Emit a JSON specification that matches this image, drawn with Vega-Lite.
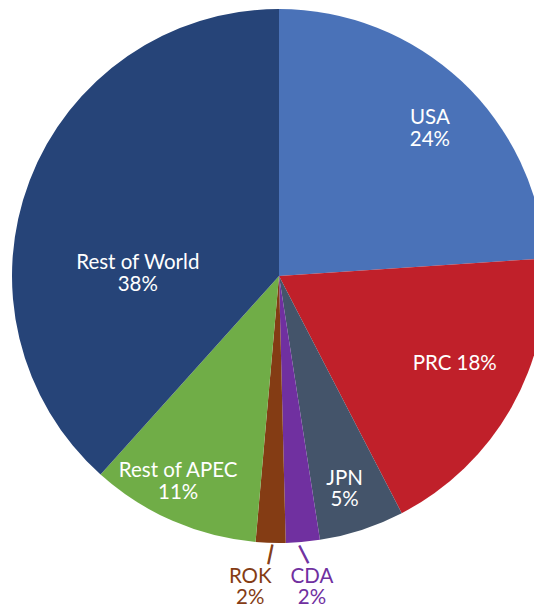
{
  "$schema": "https://vega.github.io/schema/vega-lite/v6.json",
  "width": 510,
  "height": 552,
  "autosize": {"type": "none"},
  "padding": {"left": 24, "top": 0, "right": 0, "bottom": 53},
  "background": "white",
  "config": {"view": {"stroke": null}, "text": {"font": "Lato", "fontSize": 20.5, "lineHeight": 21.5, "lineBreak": "\n"}},
  "data": {"values": [
    {"region": "USA", "share": 23.95, "label": "USA\n24%"},
    {"region": "PRC", "share": 18.45, "label": "PRC 18%"},
    {"region": "JPN", "share": 5.15, "label": "JPN\n5%"},
    {"region": "CDA", "share": 2.05, "label": "CDA\n2%"},
    {"region": "ROK", "share": 1.8, "label": "ROK\n2%"},
    {"region": "Rest of APEC", "share": 10.25, "label": "Rest of APEC\n11%"},
    {"region": "Rest of World", "share": 38.35, "label": "Rest of World\n38%"}
  ]},
  "transform": [{"window": [{"op": "row_number", "as": "ord"}]}],
  "encoding": {
    "theta": {"field": "share", "type": "quantitative", "stack": true},
    "order": {"field": "ord", "type": "quantitative"},
    "color": {
      "field": "region", "type": "nominal", "legend": null,
      "scale": {
        "domain": ["USA", "PRC", "JPN", "CDA", "ROK", "Rest of APEC", "Rest of World"],
        "range": ["#4a72b8", "#c0202a", "#44546a", "#7030a0", "#843c14", "#70ad47", "#264478"]
      }
    }
  },
  "layer": [
    {"mark": {"type": "arc", "outerRadius": 267}},
    {"mark": {"type": "text", "radius": 212, "dx": 6, "dy": -3},
     "encoding": {"color": {"value": "white"},
       "text": {"condition": {"test": "datum.region === 'USA'", "field": "label"}, "value": ""}}},
    {"mark": {"type": "text", "radius": 196, "dx": 5, "dy": -8},
     "encoding": {"color": {"value": "white"},
       "text": {"condition": {"test": "datum.region === 'PRC'", "field": "label"}, "value": ""}}},
    {"mark": {"type": "text", "radius": 224, "dx": -4, "dy": -10},
     "encoding": {"color": {"value": "white"},
       "text": {"condition": {"test": "datum.region === 'JPN'", "field": "label"}, "value": ""}}},
    {"mark": {"type": "text", "radius": 228, "dx": -10, "dy": -14},
     "encoding": {"color": {"value": "white"},
       "text": {"condition": {"test": "datum.region === 'Rest of APEC'", "field": "label"}, "value": ""}}},
    {"mark": {"type": "text", "radius": 133, "dx": -17, "dy": 35},
     "encoding": {"color": {"value": "white"},
       "text": {"condition": {"test": "datum.region === 'Rest of World'", "field": "label"}, "value": ""}}},
    {"mark": {"type": "text", "radius": 311, "dx": -19, "dy": -10},
     "encoding": {
       "text": {"condition": {"test": "datum.region === 'ROK'", "field": "label"}, "value": ""}}},
    {"mark": {"type": "text", "radius": 312, "dx": 5, "dy": -10},
     "encoding": {
       "text": {"condition": {"test": "datum.region === 'CDA'", "field": "label"}, "value": ""}}},
    {"mark": {"type": "text", "radius": 279, "angle": 12, "font": "DejaVu Sans", "fontSize": 16, "strokeWidth": 1},
     "encoding": {"stroke": {"value": "#843c14"},
       "text": {"condition": {"test": "datum.region === 'ROK'", "value": "│"}, "value": ""}}},
    {"mark": {"type": "text", "radius": 280, "angle": 333, "font": "DejaVu Sans", "fontSize": 16, "strokeWidth": 1},
     "encoding": {"stroke": {"value": "#7030a0"},
       "text": {"condition": {"test": "datum.region === 'CDA'", "value": "│"}, "value": ""}}}
  ]
}
